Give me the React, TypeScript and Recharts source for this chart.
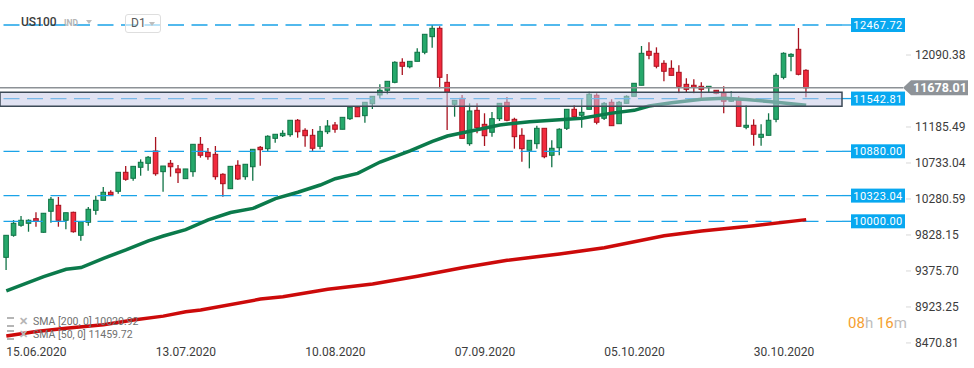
import React from 'react';
import { ComposedChart, Bar, Line, XAxis, YAxis, ReferenceLine, ReferenceArea } from 'recharts';

const opens = [9547, 9824, 9950, 9975, 10033, 9862, 10126, 10201, 10013, 10113, 9824, 9988, 10138, 10264, 10365, 10377, 10616, 10541, 10679, 10729,
  10884, 10624, 10729, 10658, 10536, 10624, 10968, 10867, 10842, 10591, 10410, 10704, 10561, 10686, 10930, 10913, 11043, 11076, 11089, 11270,
  11144, 11081, 10943, 11126, 11211, 11157, 11290, 11433, 11328, 11478, 11588, 11647, 11747, 11999, 11943, 12011, 12125, 12321, 12426, 11747,
  11471, 11546, 10976, 11395, 11219, 11119, 11290, 11496, 11282, 11081, 10893, 10976, 11169, 10830, 10925, 11169, 11408, 11333, 11408, 11584,
  11295, 11496, 11227, 11483, 11571, 11710, 12137, 12112, 11986, 11923, 11873, 11722, 11710, 11697, 11680, 11647, 11609, 11509, 11534, 11182,
  11207, 11056, 11081, 11282, 11810, 12074, 12162, 11898];
const highs = [9824, 10016, 10067, 10025, 10113, 10104, 10306, 10306, 10108, 10121, 9995, 10180, 10322, 10431, 10390, 10616, 10695, 10691, 10779, 10821,
  11060, 10695, 10771, 10708, 10658, 10968, 11060, 10922, 10947, 10603, 10691, 10767, 10717, 10905, 10947, 11081, 11094, 11144, 11270, 11286,
  11169, 11160, 11198, 11273, 11248, 11307, 11433, 11433, 11496, 11571, 11722, 11760, 12011, 12049, 12011, 12175, 12351, 12467.72, 12451, 11852,
  11521, 11588, 11483, 11483, 11358, 11374, 11483, 11563, 11302, 11169, 11018, 11202, 11169, 11018, 11169, 11408, 11462, 11534, 11629, 11609,
  11500, 11534, 11512, 11584, 11735, 12204, 12250, 12187, 12024, 12024, 11961, 11798, 11785, 11747, 11697, 11647, 11697, 11634, 11571, 11458,
  11282, 11219, 11358, 11861, 12125, 12112, 12430, 11911];
const lows = [9388, 9806, 9932, 9869, 9932, 9857, 9982, 9932, 9900, 9857, 9756, 9945, 10083, 10264, 10322, 10347, 10510, 10510, 10573, 10636,
  10573, 10372, 10561, 10482, 10536, 10561, 10800, 10774, 10523, 10309, 10410, 10519, 10523, 10510, 10699, 10884, 10988, 11060, 11064, 11051,
  10938, 10885, 10905, 11097, 11114, 11157, 11273, 11315, 11240, 11412, 11546, 11597, 11735, 11839, 11923, 12011, 12099, 12182, 11672, 11148,
  11315, 11043, 10950, 11106, 10947, 11064, 11261, 11257, 10913, 10749, 10666, 10913, 10792, 10679, 10830, 11148, 11302, 11177, 11408, 11219,
  11273, 11202, 11227, 11483, 11571, 11710, 12037, 11923, 11760, 11835, 11609, 11626, 11609, 11546, 11622, 11597, 11358, 11500, 11194, 11157,
  10950, 10950, 11081, 11245, 11785, 11886, 11835, 11559];
const closes = [9824, 9975, 10013, 10013, 10000, 10101, 10277, 10013, 10108, 9869, 9995, 10151, 10264, 10365, 10334, 10616, 10528, 10691, 10742, 10805,
  10598, 10695, 10686, 10611, 10658, 10968, 10830, 10812, 10561, 10473, 10691, 10532, 10717, 10905, 10900, 11069, 11094, 11106, 11270, 11126,
  11076, 10918, 11131, 11198, 11157, 11307, 11433, 11315, 11496, 11571, 11647, 11760, 11999, 11949, 12011, 12125, 12351, 12426, 11810, 11622,
  11521, 11043, 11387, 11177, 11076, 11290, 11483, 11270, 11064, 10913, 11018, 11169, 10812, 10918, 11157, 11408, 11315, 11370, 11597, 11245,
  11483, 11202, 11496, 11571, 11735, 12112, 12087, 11949, 11886, 11835, 11697, 11659, 11685, 11659, 11697, 11609, 11509, 11546, 11194, 11207,
  11094, 11094, 11270, 11835, 12112, 12099, 11848, 11678.01];

const sma50Idx = [0, 5, 8, 10, 13, 16, 19, 21, 24, 27, 30, 33, 36, 39, 42, 44, 47, 50, 54, 57, 59, 62, 66, 70, 75, 77, 81, 84, 86, 89, 93, 96, 99, 102, 107];
const sma50Val = [9124, 9304, 9397, 9419, 9535, 9640, 9755, 9815, 9895, 10018, 10110, 10162, 10285, 10365, 10456, 10535, 10603, 10745, 10885, 11005, 11072, 11132, 11211, 11252, 11284, 11296, 11360, 11395, 11450, 11491, 11535, 11546, 11532, 11506, 11460];
const sma200Idx = [0, 4, 8, 13, 17, 21, 24, 26, 34, 37, 43, 49, 55, 61, 67, 74, 80, 88, 93, 100, 107];
const sma200Val = [8558, 8615, 8655, 8700, 8759, 8808, 8862, 8885, 9022, 9052, 9145, 9212, 9310, 9415, 9510, 9590, 9668, 9818, 9878, 9945, 10021];

const xTickIdx = [0, 20, 40, 60, 80, 100];
const xTickLabels = ['15.06.2020', '13.07.2020', '10.08.2020', '07.09.2020', '05.10.2020', '30.10.2020'];
const yTicks = [8470.81, 8923.25, 9375.70, 9828.15, 10280.59, 10733.04, 11185.49, 12090.38];
const levels = [12467.72, 11542.81, 10880.0, 10323.04, 10000.0];
const lastPrice = 11678.01;
const zoneLow = 11445.7;
const zoneHigh = 11621.7;

const FONT = "Roboto, 'Open Sans', Arial, sans-serif";

const data = opens.map((o, i) => {
  const r: any = { i, o, h: highs[i], l: lows[i], c: closes[i], range: [lows[i], highs[i]] };
  const a = sma50Idx.indexOf(i);
  if (a >= 0) r.sma50 = sma50Val[a];
  const b = sma200Idx.indexOf(i);
  if (b >= 0) r.sma200 = sma200Val[b];
  return r;
});

const Candle = (props: any) => {
  const { x, y, width, height, payload } = props;
  if (payload == null || height == null) return null;
  const { o, h, l, c } = payload;
  const up = c >= o;
  const k = h - l > 0 ? height / (h - l) : 0;
  const yO = y + (h - o) * k;
  const yC = y + (h - c) * k;
  const cx = x + width / 2;
  const top = Math.min(yO, yC);
  const bh = Math.max(Math.abs(yO - yC), 1);
  const fill = up ? '#26a86b' : '#f12a3d';
  const stroke = up ? '#107346' : '#a8121f';
  return (
    <g>
      <line x1={cx} x2={cx} y1={y} y2={y + height} stroke={stroke} strokeWidth={1.3} />
      <rect x={cx - 2.3} y={top} width={4.6} height={bh} fill={fill} stroke={stroke} strokeWidth={1} />
    </g>
  );
};

const LevelTag = (props: any) => {
  const { viewBox, text } = props;
  if (!viewBox) return null;
  const xr = viewBox.x + viewBox.width;
  const y = viewBox.y;
  return (
    <g>
      <line x1={xr} x2={xr + 9} y1={y} y2={y} stroke="#1aa3e8" strokeWidth={1.3} />
      <rect x={xr + 9} y={y - 7} width={54} height={14} fill="#08a8f0" />
      <text x={xr + 36} y={y + 4} textAnchor="middle" fill="#ffffff" fontSize={11} fontFamily={FONT} letterSpacing={0.4}>{text}</text>
    </g>
  );
};

const PriceTag = (props: any) => {
  const { viewBox, text } = props;
  if (!viewBox) return null;
  const xr = viewBox.x + viewBox.width;
  const y = viewBox.y;
  const tip = xr + 61;
  return (
    <g>
      <line x1={xr} x2={tip} y1={y} y2={y} stroke="#8c9196" strokeWidth={1.5} />
      <path d={`M${tip},${y} L${tip + 8},${y - 7.5} L${tip + 65},${y - 7.5} L${tip + 65},${y + 7.5} L${tip + 8},${y + 7.5} Z`} fill="#8e9398" />
      <text x={tip + 10} y={y + 4.5} fill="#ffffff" fontSize={12.5} fontWeight={700} fontFamily={FONT}>{text}</text>
    </g>
  );
};

const YTick = (props: any) => {
  const { y, payload } = props;
  return (
    <g>
      <line x1={906} x2={911} y1={y} y2={y} stroke="#d8d8d8" strokeWidth={1} />
      <text x={915} y={y + 4} fill="#3c3c3c" fontSize={12} fontFamily={FONT}>{payload.value.toFixed(2)}</text>
    </g>
  );
};

const XTick = (props: any) => {
  const { x, payload } = props;
  const k = xTickIdx.indexOf(payload.value);
  return (
    <text x={x} y={356} textAnchor="start" fill="#3c3c3c" fontSize={12} fontFamily={FONT}>{k >= 0 ? xTickLabels[k] : ''}</text>
  );
};

export default function App() {
  return (
    <div style={{ position: 'absolute', left: 0, top: 0, width: 974, height: 368, background: '#ffffff', overflow: 'hidden', fontFamily: FONT }}>
      <ComposedChart width={974} height={368} data={data} margin={{ top: 0, right: 0, bottom: 0, left: 0 }}>
        <XAxis dataKey="i" type="number" domain={[-0.845, 111.79]} allowDataOverflow ticks={xTickIdx} interval={0}
          axisLine={false} tickLine={false} height={23} tick={<XTick />} />
        <YAxis orientation="right" type="number" domain={[8445, 12782]} allowDataOverflow ticks={yTicks} interval={0}
          axisLine={false} tickLine={false} width={132} tick={<YTick />} />
        {levels.map((v) => (
          <ReferenceLine key={v} y={v} stroke="#1aa3e8" strokeWidth={1.3} strokeDasharray="16 7.5"
            label={<LevelTag text={v.toFixed(2)} />} />
        ))}
        <ReferenceLine y={lastPrice} stroke="#8c9196" strokeWidth={1.5} label={<PriceTag text={lastPrice.toFixed(2)} />} />
        <Line dataKey="sma200" type="linear" stroke="#cc0a0a" strokeWidth={3.5} strokeLinecap="butt" dot={false} activeDot={false} connectNulls isAnimationActive={false} />
        <Bar dataKey="range" barSize={5} shape={<Candle />} isAnimationActive={false} />
        <Line dataKey="sma50" type="linear" stroke="#0b7a4b" strokeWidth={3.5} strokeLinecap="butt" dot={false} activeDot={false} connectNulls isAnimationActive={false} />
        <ReferenceArea y1={zoneLow} y2={zoneHigh} fill="#c7cbe7" fillOpacity={0.55} stroke="#3c4a57" strokeWidth={1.5} zIndex={1500} />
      </ComposedChart>

      <div style={{ position: 'absolute', left: 21, top: 15, fontSize: 12, fontWeight: 500, color: '#3d3d3d' }}>US100</div>
      <div style={{ position: 'absolute', left: 64, top: 18, fontSize: 8.5, fontWeight: 700, color: '#b4b4b4' }}>IND</div>
      <div style={{ position: 'absolute', left: 86, top: 20, width: 0, height: 0, borderLeft: '3.5px solid transparent', borderRight: '3.5px solid transparent', borderTop: '4px solid #bdbdbd' }} />
      <div style={{ position: 'absolute', left: 125, top: 14, width: 34, height: 17, border: '1px solid #dedede', borderRadius: 3, background: 'rgba(255,255,255,0.6)' }}>
        <span style={{ position: 'absolute', left: 5, top: 1, fontSize: 12, color: '#5a5a5a' }}>D1</span>
        <span style={{ position: 'absolute', left: 23, top: 7, width: 0, height: 0, borderLeft: '3.5px solid transparent', borderRight: '3.5px solid transparent', borderTop: '4px solid #bdbdbd' }} />
      </div>

      {[{ t: 'SMA [200, 0] 10020.92', top: 315 }, { t: 'SMA [50, 0] 11459.72', top: 328 }].map((r) => (
        <div key={r.t} style={{ position: 'absolute', left: 7, top: r.top, height: 13, display: 'flex', alignItems: 'center' }}>
          <span style={{ display: 'inline-block', width: 7, height: 6, borderTop: '2px solid #b5b5b5', borderBottom: '2px solid #b5b5b5', marginRight: 5 }} />
          <span style={{ fontSize: 11, fontWeight: 700, color: '#b5b5b5', marginRight: 5 }}>✕</span>
          <span style={{ fontSize: 10.5, color: '#707070' }}>{r.t}</span>
        </div>
      ))}

      <div style={{ position: 'absolute', left: 848, top: 314, fontSize: 15, lineHeight: '18px' }}>
        <span style={{ color: '#f5a031' }}>08</span>
        <span style={{ color: '#bdbdbd' }}>h </span>
        <span style={{ color: '#f5a031' }}>16</span>
        <span style={{ color: '#bdbdbd' }}>m</span>
      </div>
    </div>
  );
}
